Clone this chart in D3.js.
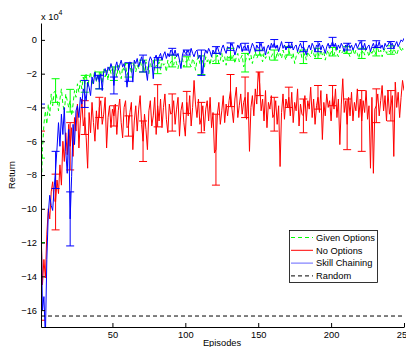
<!DOCTYPE html>
<html>
<head>
<meta charset="utf-8">
<script src="https://cdn.jsdelivr.net/npm/d3@7"></script>
<style>
  body { margin: 0; background: #fff; }
  svg { display: block; font-family: "Liberation Sans", Arial, sans-serif; }
  .axis path, .axis line { stroke: #000; stroke-width: 1; }
  .axis text { font-size: 9.3px; fill: #000; }
</style>
</head>
<body>
<div id="chart"></div>
<script>
// values are in units of 1e4 (axis shows "x 10^4"), one per episode 1..250
const givenOptions = [
  -9.5, -6.5, -5.0, -4.2, -5.0, -3.8, -4.5, -3.2, -3.9, -3.1,
  -3.0, -3.5, -4.2, -3.5, -2.9, -3.8, -4.3, -3.2, -3.6, -4.0,
  -3.6, -4.5, -3.8, -3.0, -3.4, -2.6, -3.1, -2.4, -2.9, -2.2,
  -2.6, -2.0, -2.8, -2.3, -1.9, -2.7, -2.2, -1.8, -2.5, -2.0,
  -2.4, -1.9, -2.6, -1.7, -2.2, -1.8, -2.4, -1.6, -2.0, -1.7,
  -2.0, -1.6, -2.2, -1.5, -1.9, -2.3, -1.6, -1.8, -1.4, -2.1,
  -1.8, -1.5, -2.0, -1.6, -1.3, -1.9, -1.5, -1.7, -1.2, -1.6,
  -1.55, -1.9, -1.3, -1.7, -2.0, -1.4, -1.6, -1.2, -1.8, -1.5,
  -1.6, -1.3, -1.8, -1.1, -1.5, -1.4, -1.9, -1.2, -1.6, -1.3,
  -1.25, -1.5, -1.0, -1.4, -1.7, -1.2, -1.5, -1.1, -1.6, -1.3,
  -1.3, -1.0, -1.4, -1.6, -1.1, -1.3, -1.8, -1.2, -1.0, -1.4,
  -1.5, -1.2, -1.7, -1.0, -1.3, -1.1, -1.5, -0.9, -1.3, -1.2,
  -1.1, -0.9, -1.4, -1.2, -0.8, -1.3, -1.0, -1.5, -0.9, -1.1,
  -0.85, -1.2, -0.9, -1.4, -1.0, -0.8, -1.3, -1.1, -0.9, -1.6,
  -1.35, -1.0, -0.8, -1.2, -0.9, -1.4, -1.0, -0.7, -1.1, -0.9,
  -0.75, -1.0, -1.3, -0.8, -1.1, -0.9, -0.7, -1.2, -1.0, -0.8,
  -0.9, -1.2, -0.7, -1.0, -0.8, -1.1, -0.6, -0.9, -1.2, -0.8,
  -0.65, -0.9, -1.1, -0.8, -1.4, -1.0, -0.7, -0.9, -0.6, -1.1,
  -1.0, -0.8, -1.2, -0.7, -0.9, -1.0, -0.6, -0.8, -1.1, -0.7,
  -0.8, -1.0, -0.6, -0.9, -0.7, -1.2, -0.8, -0.6, -1.0, -0.7,
  -0.7, -0.9, -0.5, -0.8, -1.0, -0.6, -0.8, -0.7, -0.5, -0.9,
  -0.6, -0.8, -1.0, -0.7, -0.5, -0.9, -0.6, -0.8, -1.1, -0.7,
  -0.8, -0.6, -0.9, -0.5, -0.7, -1.0, -0.6, -0.8, -0.5, -0.9,
  -0.7, -0.5, -0.8, -0.6, -1.0, -0.7, -0.5, -0.8, -0.6, -0.7,
  -0.6, -0.8, -0.5, -0.7, -0.9, -0.6, -0.4, -0.7, -0.5, -0.6
];

const noOptions = [
  -11.0, -14.5, -13.0, -14.1, -11.5, -10.0, -10.6, -9.0, -8.4, -9.5,
  -9.6, -8.3, -9.1, -7.4, -8.6, -6.0, -7.2, -5.5, -6.8, -5.0,
  -6.3, -5.2, -6.9, -4.6, -5.4, -3.8, -6.4, -4.8, -3.5, -5.1,
  -4.6, -5.8, -7.6, -4.3, -5.5, -3.7, -4.9, -6.0, -4.2, -5.3,
  -4.0, -3.6, -5.0, -4.4, -3.4, -6.4, -4.6, -3.9, -5.2, -4.1,
  -4.5, -3.8, -5.6, -4.2, -3.5, -4.9, -5.8, -4.0, -3.6, -5.2,
  -5.1, -4.3, -3.7, -6.5, -4.8, -3.9, -5.4, -4.1, -3.3, -5.0,
  -6.0, -4.4, -5.3, -6.5, -4.2, -3.6, -5.1, -4.5, -3.4, -5.6,
  -3.9, -4.8, -3.5, -5.2, -4.0, -3.2, -4.7, -5.5, -3.8, -4.4,
  -4.3, -3.6, -5.0, -4.1, -3.4, -5.7, -4.2, -3.7, -4.9, -5.7,
  -3.7, -4.5, -3.3, -5.1, -4.0, -2.4, -3.8, -4.6, -3.5, -5.0,
  -4.6, -3.9, -5.4, -4.1, -3.6, -4.8, -3.4, -5.2, -4.3, -6.7,
  -6.5, -4.4, -3.7, -5.0, -4.2, -3.3, -4.9, -3.8, -4.5, -3.6,
  -3.0, -4.1, -4.9, -3.5, -2.8, -4.6, -3.9, -3.2, -4.4, -3.7,
  -3.4, -4.7, -3.1, -6.6, -4.0, -3.3, -4.5, -2.9, -3.8, -1.9,
  -2.6, -4.2, -3.5, -4.8, -3.0, -5.2, -3.7, -4.1, -3.3, -4.6,
  -4.4, -3.6, -5.0, -3.9, -7.5, -4.3, -3.2, -4.7, -3.5, -4.0,
  -3.4, -4.5, -3.1, -4.9, -3.7, -4.2, -2.9, -5.1, -3.8, -4.4,
  -4.5, -3.3, -4.8, -3.6, -4.1, -2.8, -4.6, -3.5, -5.0, -3.9,
  -3.4, -4.3, -3.0, -5.9, -3.7, -4.5, -3.2, -4.0, -3.6, -4.8,
  -3.3, -4.1, -2.9, -4.6, -3.5, -6.2, -3.8, -2.3, -4.3, -3.6,
  -5.0, -3.4, -4.5, -3.1, -4.8, -3.7, -4.2, -2.9, -4.6, -3.5,
  -4.8, -3.6, -4.3, -3.0, -4.7, -3.9, -7.6, -3.4, -7.9, -4.1,
  -3.9, -3.2, -4.5, -3.6, -2.7, -4.2, -3.3, -4.8, -3.0, -4.4,
  -3.9, -3.3, -6.9, -2.5, -4.0, -3.1, -4.6, -3.4, -2.4, -3.0
];

const skillChaining = [
  -10.5, -16.0, -15.2, -17.6, -13.0, -10.3, -9.2, -9.8, -10.1, -8.8,
  -7.7, -6.4, -4.9, -6.3, -4.4, -5.6, -4.0, -6.6, -7.9, -5.3,
  -10.6, -8.1, -5.0, -6.2, -4.2, -3.9, -4.6, -3.4, -3.8, -2.9,
  -3.2, -3.6, -2.5, -2.8, -3.3, -2.2, -2.6, -1.9, -2.4, -2.1,
  -2.5, -2.0, -3.0, -1.9, -1.7, -2.1, -1.6, -1.8, -1.4, -1.7,
  -2.7, -1.6, -1.3, -1.8, -1.5, -1.2, -1.6, -1.4, -1.9, -2.8,
  -1.9, -1.3, -1.5, -2.5, -1.2, -1.4, -1.1, -1.6, -1.3, -1.0,
  -1.4, -1.2, -1.8, -2.4, -1.3, -1.0, -1.2, -2.3, -1.1, -0.9,
  -1.35, -1.0, -0.8, -1.2, -0.9, -0.7, -1.1, -0.8, -1.0, -0.6,
  -0.7, -0.9, -0.6, -1.0, -0.8, -1.2, -1.7, -0.9, -0.6, -0.8,
  -0.75, -0.6, -0.9, -0.5, -0.8, -1.0, -0.7, -0.6, -1.1, -0.9,
  -1.35, -2.0, -0.9, -0.6, -0.8, -0.5, -0.7, -1.0, -0.6, -0.8,
  -0.6, -0.4, -0.7, -0.9, -0.5, -0.3, -0.6, -0.8, -0.4, -0.5,
  -0.4, -0.2, -0.5, -0.9, -0.6, -0.3, -0.5, -0.2, -0.7, -0.4,
  -0.4, -0.6, -0.3, -0.8, -0.5, -0.2, -0.4, -0.7, -0.3, -0.5,
  -0.4, -0.2, -0.6, -0.4, -0.9, -0.5, -0.3, -0.6, -0.2, -0.4,
  -0.2, -0.5, -0.3, -0.7, -0.4, -0.1, -0.5, -0.3, -0.6, -0.4,
  -0.3, -0.5, -0.2, -0.6, -0.4, -0.3, -0.7, -0.4, -0.2, -0.5,
  -0.4, -0.6, -0.9, -0.5, -0.3, -0.6, -0.2, -0.4, -0.7, -0.3,
  -0.4, -0.2, -0.6, -0.3, -0.5, -0.8, -0.4, -0.2, -0.5, -0.3,
  -0.1, -0.4, -0.2, -0.6, -0.3, -0.5, -0.2, -0.4, -0.7, -0.3,
  -0.4, -0.2, -0.5, -0.3, -0.6, -0.4, -0.2, -0.5, -0.3, -0.1,
  -0.3, -0.5, -0.2, -0.6, -0.4, -0.3, -0.7, -0.4, -0.2, -0.5,
  -0.25, -0.4, -0.1, -0.5, -0.3, -0.6, -0.2, -0.4, -0.3, -0.1,
  -0.3, -0.2, -0.5, -0.3, -0.1, -0.4, -0.2, 0.0, -0.1, 0.1
];

// error bar half-widths at episodes 1, 11, 21, ... 241
const errEpisodes = d3.range(1, 251, 10);
const givenErr = [2.5, 0.7, 0.67, 0.5, 0.5, 0.4, 0.4, 0.35, 0.4, 0.35, 0.3, 0.55, 0.3,
  0.35, 0.55, 0.15, 0.3, 0.25, 0.4, 0.3, 0.25, 0.2, 0.3, 0.25, 0.25];
const noErr = [5.6, 1.65, 1.4, 1.0, 0.6, 0.6, 0.6, 1.2, 1.25, 1.1, 0.65, 0.9, 2.1,
  0.95, 1.2, 0.7, 1.0, 0.6, 1.0, 0.7, 0.6, 1.5, 1.8, 1.0, 0.9];
const skillErr = [6.7, 1.1, 1.6, 0.8, 0.4, 0.5, 0.55, 0.5, 0.3, 0.2, 0.15, 0.75, 0.2,
  0.22, 0.2, 0.24, 0.22, 0.15, 0.3, 0.3, 0.25, 0.2, 0.25, 0.2, 0.2];

const randomLevel = -16.35;

const yTicks = [0, -2, -4, -6, -8, -10, -12, -14, -16];
const xTicks = [50, 100, 150, 200, 250];

const series = [
  { name: 'Given Options', values: givenOptions, err: givenErr, color: '#00ff00', dash: '4,3' },
  { name: 'No Options', values: noOptions, err: noErr, color: '#ff0000', dash: null },
  { name: 'Skill Chaining', values: skillChaining, err: skillErr, color: '#0000ff', dash: null }
];

const width = 406, height = 347;
const margin = { left: 41, right: 404, top: 23, bottom: 327 };

const svg = d3.select('#chart').append('svg')
  .attr('width', width)
  .attr('height', height);

const x = d3.scaleLinear().domain([1, 250]).range([margin.left, margin.right]);
const y = d3.scaleLinear().domain([-17, 1]).range([margin.bottom, margin.top]);

svg.append('clipPath').attr('id', 'plot-clip')
  .append('rect')
  .attr('x', margin.left).attr('y', margin.top)
  .attr('width', margin.right - margin.left).attr('height', margin.bottom - margin.top);

const plot = svg.append('g').attr('clip-path', 'url(#plot-clip)');

const line = d3.line()
  .x((d, i) => x(i + 1))
  .y(d => y(d));

const capW = 4;

series.forEach(s => {
  const g = plot.append('g');
  g.append('path')
    .datum(s.values)
    .attr('fill', 'none')
    .attr('stroke', s.color)
    .attr('stroke-width', 1)
    .attr('stroke-dasharray', s.dash)
    .attr('d', line);

  const bars = errEpisodes.map((ep, k) => ({ ep: ep, v: s.values[ep - 1], e: s.err[k] }));
  const eb = g.selectAll('.eb').data(bars).enter().append('g').attr('class', 'eb')
    .attr('stroke', s.color).attr('stroke-width', 1);
  eb.append('line')
    .attr('x1', d => x(d.ep)).attr('x2', d => x(d.ep))
    .attr('y1', d => y(d.v + d.e)).attr('y2', d => y(d.v - d.e));
  eb.append('line')
    .attr('x1', d => x(d.ep) - capW).attr('x2', d => x(d.ep) + capW)
    .attr('y1', d => y(d.v + d.e)).attr('y2', d => y(d.v + d.e));
  eb.append('line')
    .attr('x1', d => x(d.ep) - capW).attr('x2', d => x(d.ep) + capW)
    .attr('y1', d => y(d.v - d.e)).attr('y2', d => y(d.v - d.e));
});

// random baseline
plot.append('line')
  .attr('x1', x(1)).attr('x2', x(250))
  .attr('y1', y(randomLevel)).attr('y2', y(randomLevel))
  .attr('stroke', '#000')
  .attr('stroke-width', 1)
  .attr('stroke-dasharray', '4,3');

// axes, ticks inward like matlab
svg.append('g')
  .attr('class', 'axis')
  .attr('transform', `translate(${margin.left},0)`)
  .call(d3.axisLeft(y).tickValues(yTicks).tickSizeInner(-4).tickSizeOuter(0).tickPadding(4));

svg.append('g')
  .attr('class', 'axis')
  .attr('transform', `translate(0,${margin.bottom})`)
  .call(d3.axisBottom(x).tickValues(xTicks).tickSizeInner(-4).tickSizeOuter(0).tickPadding(4));

svg.selectAll('.axis .domain').attr('stroke-width', 1.2);

const txt = svg.append('g').attr('font-size', '9.3px').attr('fill', '#000');

txt.append('text')
  .attr('transform', `translate(15,${(margin.top + margin.bottom) / 2}) rotate(-90)`)
  .attr('text-anchor', 'middle')
  .text('Return');

txt.append('text')
  .attr('x', 222).attr('y', 346)
  .attr('text-anchor', 'middle')
  .text('Episodes');

const mult = txt.append('text').attr('x', 41).attr('y', 20);
mult.append('tspan').text('x 10');
mult.append('tspan').attr('dy', -5).attr('font-size', '7px').text('4');

// legend
const legendItems = [
  { name: 'Given Options', color: '#00ff00', dash: '4,3' },
  { name: 'No Options', color: '#ff0000', dash: null },
  { name: 'Skill Chaining', color: '#6666ff', dash: null },
  { name: 'Random', color: '#000', dash: '4,3' }
];

const legend = svg.append('g');
legend.append('rect')
  .attr('x', 289.5).attr('y', 230.5)
  .attr('width', 88).attr('height', 52)
  .attr('fill', '#fff')
  .attr('stroke', '#000')
  .attr('stroke-width', 0.8);

const li = legend.selectAll('.li').data(legendItems).enter().append('g')
  .attr('transform', (d, i) => `translate(0,${237.5 + i * 12.8})`);
li.append('line')
  .attr('x1', 291).attr('x2', 313)
  .attr('stroke', d => d.color)
  .attr('stroke-width', 1)
  .attr('stroke-dasharray', d => d.dash);
li.append('text')
  .attr('x', 316).attr('dy', '0.35em')
  .attr('font-size', '9.3px')
  .text(d => d.name);
</script>
</body>
</html>
